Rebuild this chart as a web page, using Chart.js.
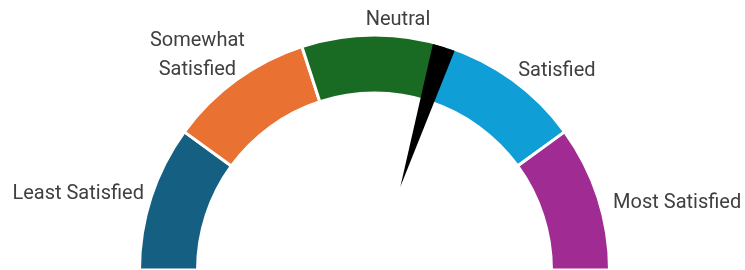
<!DOCTYPE html>
<html>
<head>
<meta charset="utf-8">
<script src="https://cdn.jsdelivr.net/npm/chart.js@4/dist/chart.umd.min.js"></script>
<style>
  html, body { margin: 0; padding: 0; background: #fff; }
  #wrap { width: 745px; height: 270px; position: relative; }
</style>
</head>
<body>
<div id="wrap"><canvas id="gauge"></canvas></div>
<script>
// gauge bands (equal size) and needle reading on the same 0..5 scale
const CATEGORIES = ["Least Satisfied", "Somewhat Satisfied", "Neutral", "Satisfied", "Most Satisfied"];
const BAND_VALUES = [1, 1, 1, 1, 1];
const NEEDLE_VALUE = 2.98;
const NEEDLE_WIDTH = 0.155;

const COLORS = ["#156082", "#E97132", "#196B24", "#0F9ED5", "#A02B93"];
// label lines + small nudges from the outside-end anchor
const LABEL_LINES = [["Least Satisfied"], ["Somewhat", "Satisfied"], ["Neutral"], ["Satisfied"], ["Most Satisfied"]];
const LABEL_ALIGN = ["right", "center", "center", "left", "left"];
const LABEL_NUDGE = [[1, -1], [-34, -17.5], [23.5, -7], [0.5, -2], [7, 8]];

const FONT = '20px "Roboto", sans-serif';
const BORDER = 3;

function arcGeom(chart){
  const a = chart.getDatasetMeta(0).data[0];
  // visible outer edge sits half a border inside the arc radius
  return { x: a.x, y: a.y, R: a.outerRadius - BORDER / 2 };
}
const total = BAND_VALUES.reduce((s, v) => s + v, 0);
const valToAngle = v => -Math.PI + (v / total) * Math.PI;

const needlePlugin = {
  id: "needle",
  afterDatasetsDraw(chart){
    const g = arcGeom(chart), ctx = chart.ctx;
    const a0 = valToAngle(NEEDLE_VALUE - NEEDLE_WIDTH / 2);
    const a1 = valToAngle(NEEDLE_VALUE + NEEDLE_WIDTH / 2);
    const am = valToAngle(NEEDLE_VALUE);
    const tipR = g.R * 0.373;
    ctx.save();
    ctx.fillStyle = "#000";
    ctx.beginPath();
    ctx.moveTo(g.x + tipR * Math.cos(am), g.y + tipR * Math.sin(am));
    ctx.lineTo(g.x + g.R * Math.cos(a0), g.y + g.R * Math.sin(a0));
    ctx.arc(g.x, g.y, g.R, a0, a1);
    ctx.closePath();
    ctx.fill();
    ctx.restore();
  }
};

const labelPlugin = {
  id: "outsideLabels",
  afterDraw(chart){
    const g = arcGeom(chart), ctx = chart.ctx;
    let acc = 0;
    ctx.save();
    ctx.font = FONT;
    ctx.fillStyle = "#404040";
    ctx.textBaseline = "middle";
    BAND_VALUES.forEach((v, i) => {
      const mid = valToAngle(acc + v / 2);
      acc += v;
      const ax = g.x + (g.R + 10) * Math.cos(mid) + LABEL_NUDGE[i][0];
      const ay = g.y + (g.R + 10) * Math.sin(mid) + LABEL_NUDGE[i][1];
      const lines = LABEL_LINES[i], lh = 28.5;
      ctx.textAlign = LABEL_ALIGN[i];
      lines.forEach((t, k) => ctx.fillText(t, ax, ay + (k - (lines.length - 1) / 2) * lh));
    });
    ctx.restore();
  }
};

new Chart(document.getElementById("gauge"), {
  type: "doughnut",
  data: {
    labels: CATEGORIES,
    datasets: [{ data: BAND_VALUES, backgroundColor: COLORS, borderColor: "#ffffff", borderWidth: BORDER, borderAlign: "center" }]
  },
  options: {
    responsive: true, maintainAspectRatio: false, animation: false,
    rotation: -90, circumference: 180, cutout: "75.3%", radius: 235,
    layout: { padding: { left: 4, right: 0, top: 35, bottom: 0 } },
    plugins: { legend: { display: false }, tooltip: { enabled: false } }
  },
  plugins: [needlePlugin, labelPlugin]
});
</script>
</body>
</html>
